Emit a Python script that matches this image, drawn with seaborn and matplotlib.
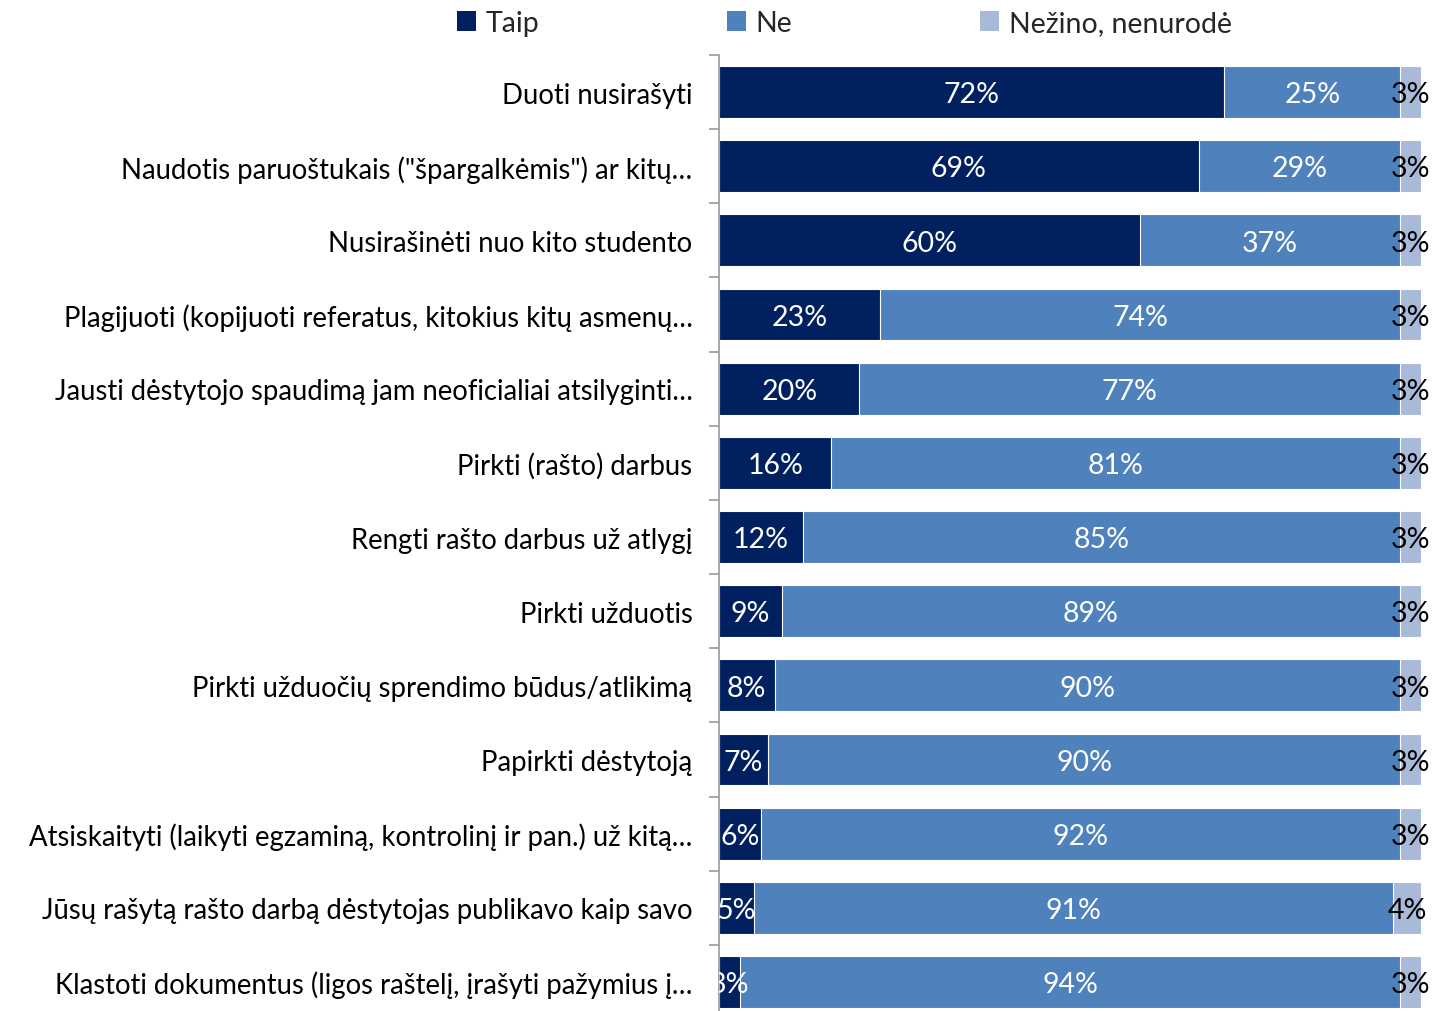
import numpy as np
import pandas as pd
import seaborn as sns
import matplotlib.pyplot as plt
from matplotlib.patches import Patch
from matplotlib.ticker import FixedLocator

categories = [
    'Duoti nusirašyti',
    'Naudotis paruoštukais ("špargalkėmis") ar kitų…',
    'Nusirašinėti nuo kito studento',
    'Plagijuoti (kopijuoti referatus, kitokius kitų asmenų…',
    'Jausti dėstytojo spaudimą jam neoficialiai atsilyginti…',
    'Pirkti (rašto) darbus',
    'Rengti rašto darbus už atlygį',
    'Pirkti užduotis',
    'Pirkti užduočių sprendimo būdus/atlikimą',
    'Papirkti dėstytoją',
    'Atsiskaityti (laikyti egzaminą, kontrolinį ir pan.) už kitą…',
    'Jūsų rašytą rašto darbą dėstytojas publikavo kaip savo',
    'Klastoti dokumentus (ligos raštelį, įrašyti pažymius į…',
]
taip = [72, 69, 60, 23, 20, 16, 12, 9, 8, 7, 6, 5, 3]
ne = [25, 29, 37, 74, 77, 81, 85, 89, 90, 90, 92, 91, 94]
nezino = [3, 3, 3, 3, 3, 3, 3, 3, 3, 3, 3, 4, 3]
series = ['Taip', 'Ne', 'Nežino, nenurodė']
colors = ['#002060', '#4F81BD', '#A9BAD9']

df = pd.DataFrame({'cat': categories, 'Taip': taip, 'Ne': ne, 'Nezino': nezino})
tot = df[['Taip', 'Ne', 'Nezino']].sum(axis=1)
# 100% stacked: normalise shares
df['p1'] = df['Taip'] / tot * 100
df['p2'] = (df['Taip'] + df['Ne']) / tot * 100
df['p3'] = 100.0

sns.set_style('white')
plt.rcParams['font.family'] = ['Lato', 'DejaVu Sans']
fs = 20.5

fig = plt.figure(figsize=(14.41, 10.12), dpi=100)
ax = fig.add_axes([719 / 1441, -8 / 1012, 702 / 1441, 964 / 1012])

for col, c in zip(['p3', 'p2', 'p1'], colors[::-1]):
    sns.barplot(data=df, x=col, y='cat', color=c, orient='h', width=0.7,
                edgecolor='white', linewidth=0.8, saturation=1, ax=ax)

ax.set_xlim(0, 100)
ax.set_ylim(len(categories) - 0.5, -0.5)

# segment labels
for i, row in df.iterrows():
    y = i + 0.03
    ax.text(row['p1'] / 2, y, f"{row['Taip']}%", ha='center', va='center',
            color='white', fontsize=fs, clip_on=True)
    ax.text((row['p1'] + row['p2']) / 2, y, f"{row['Ne']}%", ha='center', va='center',
            color='white', fontsize=fs, clip_on=True)
    ax.text((row['p2'] + 100) / 2, y, f"{row['Nezino']}%", ha='center', va='center',
            color='black', fontsize=fs)

ax.set_xlabel('')
ax.set_ylabel('')
ax.xaxis.set_visible(False)
ax.tick_params(axis='y', which='major', left=False, length=0, pad=19, labelsize=19.8,
               labelcolor='black')
ax.yaxis.set_minor_locator(FixedLocator(np.arange(-0.5, len(categories), 1)))
ax.tick_params(axis='y', which='minor', left=True, length=7, width=1.2, color='#999999',
               direction='out')
for s in ['top', 'right', 'bottom']:
    ax.spines[s].set_visible(False)
ax.spines['left'].set_color('#999999')
ax.spines['left'].set_linewidth(1.2)

handles = [Patch(facecolor=c, edgecolor='none') for c in colors]
leg = fig.legend(handles, series, loc='center left', bbox_to_anchor=(457 / 1441, 1 - 24 / 1012),
                 ncol=3, frameon=False, fontsize=fs, handlelength=0.65, handleheight=0.65,
                 handletextpad=0.35, columnspacing=6.6, borderaxespad=0, borderpad=0)

fig.savefig('out.png', dpi=100)
